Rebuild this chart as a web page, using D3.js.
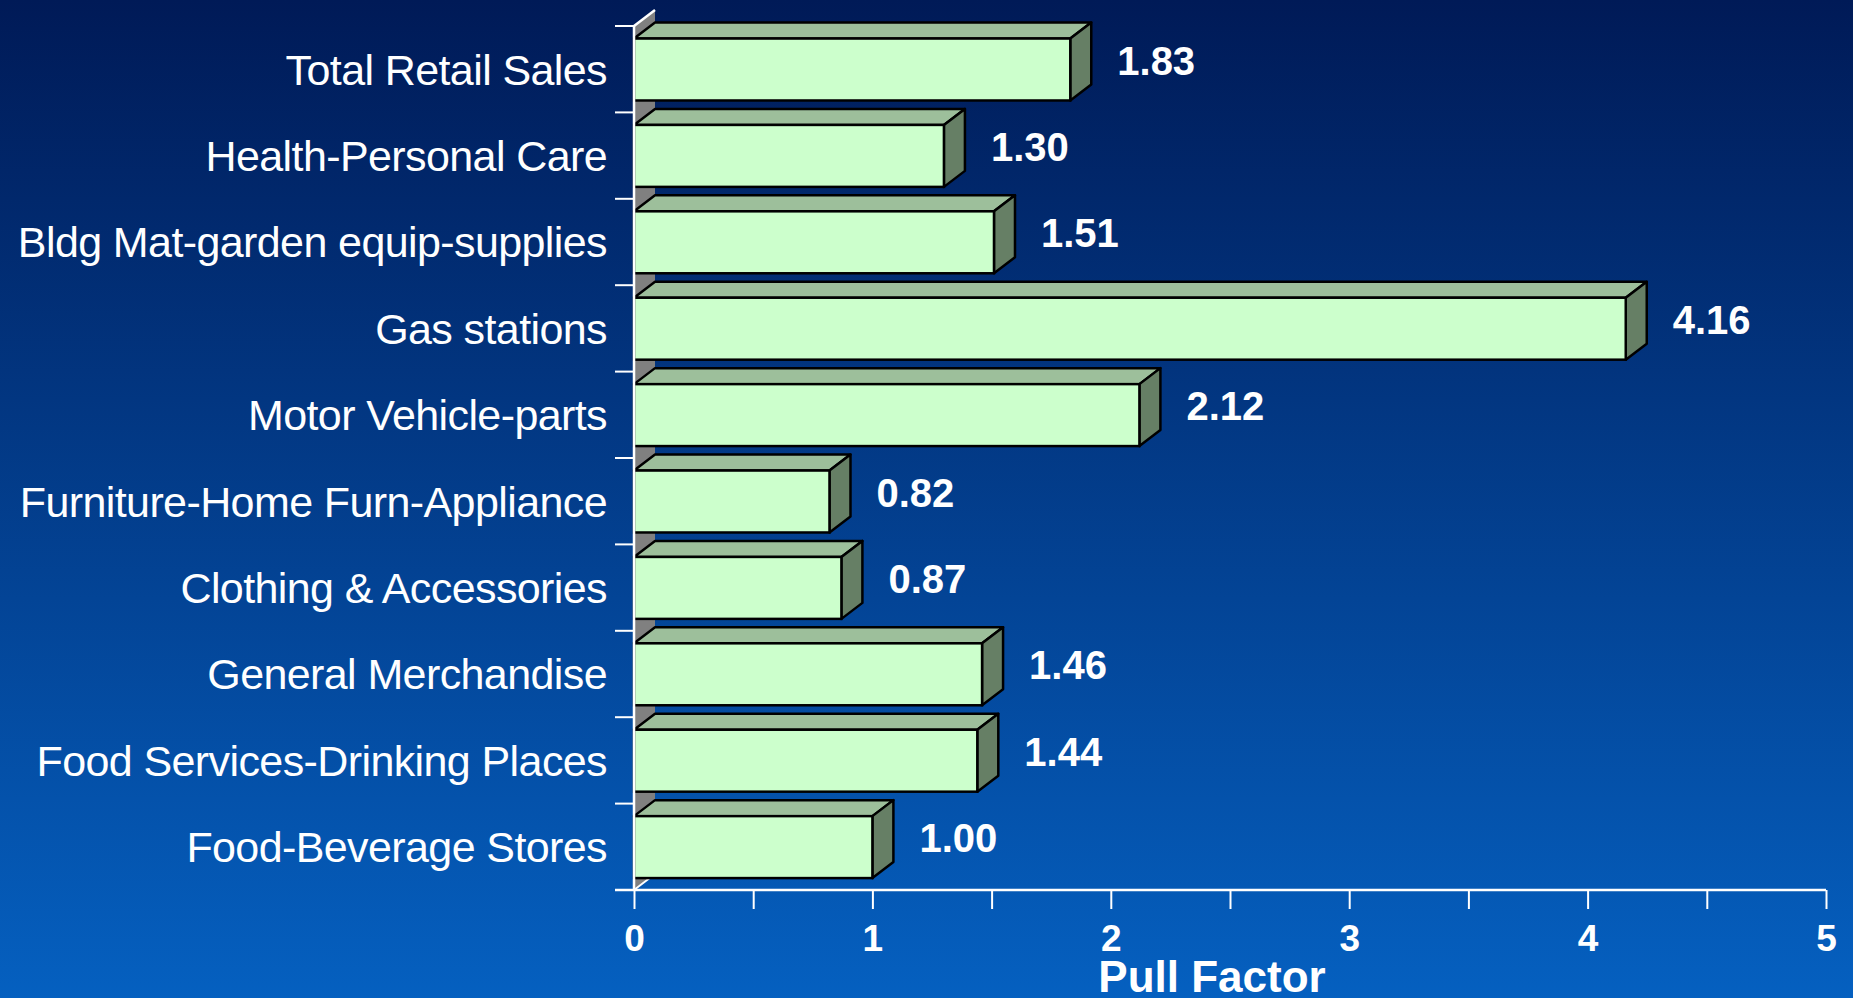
<!DOCTYPE html>
<html>
<head>
<meta charset="utf-8">
<script src="https://cdn.jsdelivr.net/npm/d3@7"></script>
<style>
  html, body { margin: 0; padding: 0; overflow: hidden; }
  svg { display: block; }
</style>
</head>
<body>
<svg id="chart"></svg>
<script>
// data
const categories = [
  'Total Retail Sales',
  'Health-Personal Care',
  'Bldg Mat-garden equip-supplies',
  'Gas stations',
  'Motor Vehicle-parts',
  'Furniture-Home Furn-Appliance',
  'Clothing & Accessories',
  'General Merchandise',
  'Food Services-Drinking Places',
  'Food-Beverage Stores'
];
const pullFactors = [1.83, 1.30, 1.51, 4.16, 2.12, 0.82, 0.87, 1.46, 1.44, 1.00];
const xTicks = [0, 0.5, 1, 1.5, 2, 2.5, 3, 3.5, 4, 4.5, 5];
const xTickLabels = ['0', '', '1', '', '2', '', '3', '', '4', '', '5'];
const axisTitle = 'Pull Factor';

const W = 1853, H = 998;
const depth = { dx: 21, dy: -16 };

const svg = d3.select('#chart')
  .attr('width', W)
  .attr('height', H);

// background gradient
const defs = svg.append('defs');
defs.append('linearGradient')
  .attr('id', 'bg')
  .attr('x1', '0%').attr('y1', '0%')
  .attr('x2', '0%').attr('y2', '100%')
  .selectAll('stop')
  .data([
    { offset: '0%', color: '#001a57' },
    { offset: '100%', color: '#0560c0' }
  ])
  .enter().append('stop')
  .attr('offset', d => d.offset)
  .attr('stop-color', d => d.color);

svg.append('rect')
  .attr('width', W).attr('height', H)
  .attr('fill', 'url(#bg)');

// scales
const xScale = d3.scaleLinear().domain([0, 5]).range([634, 1826]);
const yScale = d3.scaleBand().domain(categories).range([26, 890]).padding(0);
const bw = yScale.bandwidth();
const x0 = xScale(0);
const yTop = yScale.range()[0], yBot = yScale.range()[1];

// back wall (grey) behind the bars
svg.append('path')
  .attr('d', `M${x0},${yTop} L${x0 + depth.dx},${yTop + depth.dy} L${x0 + depth.dx},${yBot + depth.dy} L${x0},${yBot} Z`)
  .attr('fill', '#808080');
svg.append('path')
  .attr('d', `M${x0},${yTop} L${x0 + depth.dx},${yTop + depth.dy}`)
  .attr('stroke', '#fff').attr('stroke-width', 2.5);
svg.append('path')
  .attr('d', `M${x0},${yBot} L${x0 + depth.dx},${yBot + depth.dy}`)
  .attr('stroke', '#fff').attr('stroke-width', 2);

// bars as 3d boxes
const rows = categories.map((c, i) => ({ cat: c, value: pullFactors[i] }));
const bars = svg.append('g').selectAll('g.bar')
  .data(rows)
  .enter().append('g')
  .attr('class', 'bar');

const frontTop = d => yScale(d.cat) + bw * 0.145;
const frontBot = d => yScale(d.cat) + bw * 0.862;

bars.append('path') // top face
  .attr('d', d => {
    const xv = xScale(d.value), t = frontTop(d);
    return `M${x0},${t} L${x0 + depth.dx},${t + depth.dy} L${xv + depth.dx},${t + depth.dy} L${xv},${t} Z`;
  })
  .attr('fill', '#9dbf9b')
  .attr('stroke', '#000').attr('stroke-width', 2.5).attr('stroke-linejoin', 'round');

bars.append('path') // side face
  .attr('d', d => {
    const xv = xScale(d.value), t = frontTop(d), b = frontBot(d);
    return `M${xv},${t} L${xv + depth.dx},${t + depth.dy} L${xv + depth.dx},${b + depth.dy} L${xv},${b} Z`;
  })
  .attr('fill', '#667f65')
  .attr('stroke', '#000').attr('stroke-width', 2.5).attr('stroke-linejoin', 'round');

bars.append('rect') // front face
  .attr('x', x0)
  .attr('y', d => frontTop(d))
  .attr('width', d => xScale(d.value) - x0)
  .attr('height', d => frontBot(d) - frontTop(d))
  .attr('fill', '#ccffcc')
  .attr('stroke', '#000').attr('stroke-width', 2.5);

// value labels
bars.append('text')
  .attr('x', d => xScale(d.value) + depth.dx + 26)
  .attr('y', d => yScale(d.cat) + bw / 2 - 9)
  .attr('dy', '0.36em')
  .attr('fill', '#fff')
  .style('font-family', '"Liberation Sans", Arial, sans-serif')
  .style('font-weight', 'bold')
  .style('font-size', '40px')
  .text(d => d.value.toFixed(2));

// x axis
const xAxis = d3.axisBottom(xScale)
  .tickValues(xTicks)
  .tickSize(19)
  .tickPadding(16)
  .tickFormat((d, i) => xTickLabels[i]);

const gx = svg.append('g')
  .attr('transform', `translate(0,${yBot})`)
  .call(xAxis);
gx.select('.domain').remove();
gx.append('line')
  .attr('x1', x0 - 19).attr('x2', xScale(5))
  .attr('y1', 0).attr('y2', 0)
  .attr('stroke', '#fff').attr('stroke-width', 2.5);
gx.selectAll('.tick line').attr('stroke', '#fff').attr('stroke-width', 2);
gx.selectAll('.tick text')
  .attr('fill', '#fff')
  .style('font-family', '"Liberation Sans", Arial, sans-serif')
  .style('font-weight', 'bold')
  .style('font-size', '37px');

// y axis: labels at band centres, ticks at band edges
const yAxis = d3.axisLeft(yScale).tickSize(0).tickPadding(27);
const gy = svg.append('g')
  .attr('transform', `translate(${x0},0)`)
  .call(yAxis);
gy.select('.domain').remove();
gy.selectAll('.tick text')
  .attr('fill', '#fff')
  .attr('dy', '0.36em')
  .style('font-family', '"Liberation Sans", Arial, sans-serif')
  .style('font-size', '43px')
  .style('letter-spacing', '-0.6px');

gy.append('line')
  .attr('x1', 0).attr('x2', 0)
  .attr('y1', yTop).attr('y2', yBot)
  .attr('stroke', '#fff').attr('stroke-width', 2.5);
gy.selectAll('line.edge')
  .data(categories.map(c => yScale(c)))
  .enter().append('line')
  .attr('class', 'edge')
  .attr('x1', -19).attr('x2', 0)
  .attr('y1', d => d).attr('y2', d => d)
  .attr('stroke', '#fff').attr('stroke-width', 2);

// axis title
svg.append('text')
  .attr('x', 1212)
  .attr('y', 992)
  .attr('text-anchor', 'middle')
  .attr('fill', '#fff')
  .style('font-family', '"Liberation Sans", Arial, sans-serif')
  .style('font-weight', 'bold')
  .style('font-size', '44px')
  .text(axisTitle);
</script>
</body>
</html>
